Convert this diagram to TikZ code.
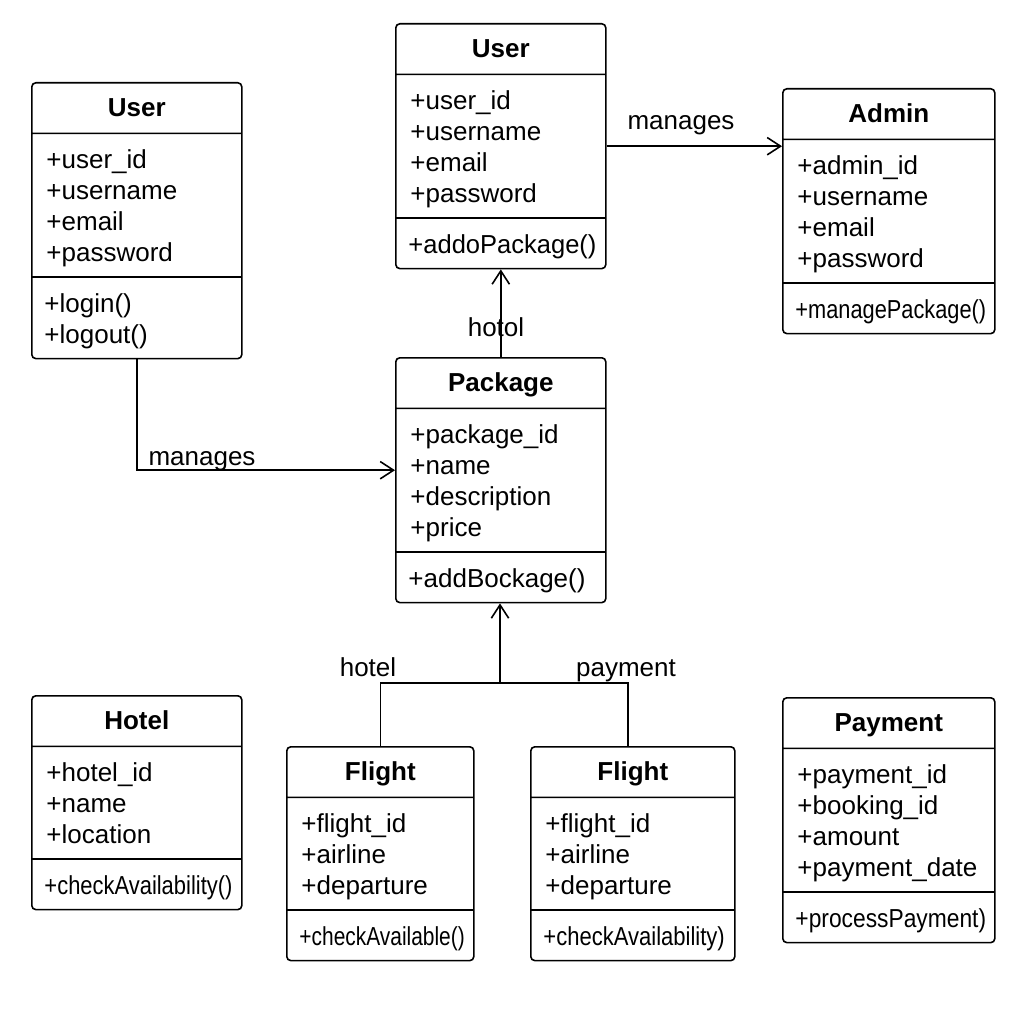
\documentclass[tikz,border=0pt]{standalone}
\usepackage{fontspec}
\setmainfont{Liberation Sans}
\usetikzlibrary{shapes.multipart,arrows.meta}

\newcommand{\cname}[1]{\raisebox{-1.5pt}[\height][\depth]{\begin{tabular}{@{}c@{}}\bfseries #1\end{tabular}}}
\newcommand{\attrs}[1]{\raisebox{-3pt}[\height][\depth]{\begin{tabular}{@{\hspace{5pt}}l@{}}#1\end{tabular}}}
\newcommand{\meths}[1]{\raisebox{-3pt}[\height][\depth]{\begin{tabular}{@{\hspace{3.5pt}}l@{}}#1\end{tabular}}}
\newcommand{\squeeze}[2]{\resizebox{#1}{\height}{#2}}

\begin{document}
\begin{tikzpicture}[x=0.75pt,y=-0.75pt,
    font=\fontsize{19.5pt}{23.25pt}\selectfont,
    umlclass/.style={draw, line width=1.2pt, rounded corners=3pt,
        rectangle split, rectangle split parts=3,
        rectangle split part align={center,left,left},
        inner xsep=6pt, inner ysep=6.75pt, anchor=north west,
        minimum width=#1},
    umlclass/.default=157.5pt,
    assoc/.style={line width=1.2pt, -{Straight Barb[length=10pt,width=13pt]}},
    wire/.style={line width=1.2pt}]
    \fill[white] (0,0) rectangle (1024,1024);
    \useasboundingbox (0,0) rectangle (1024,1024);

    % classes
    \node[umlclass] (user1) at (31,82) {\cname{User}
        \nodepart{two}\attrs{+user\_id\\+username\\+email\\+password}
        \nodepart{three}\meths{+login()\\+logout()}};
    \node[umlclass] (user2) at (395,23) {\cname{User}
        \nodepart{two}\attrs{+user\_id\\+username\\+email\\+password}
        \nodepart{three}\meths{\squeeze{141pt}{+addoPackage()}}};
    \node[umlclass=159pt] (admin) at (782,88) {\cname{Admin}
        \nodepart{two}\attrs{+admin\_id\\+username\\+email\\+password}
        \nodepart{three}\meths{\squeeze{143pt}{+managePackage()}}};
    \node[umlclass] (package) at (395,357) {\cname{Package}
        \nodepart{two}\attrs{+package\_id\\+name\\+description\\+price}
        \nodepart{three}\meths{+addBockage()}};
    \node[umlclass] (hotel) at (31,695) {\cname{Hotel}
        \nodepart{two}\attrs{+hotel\_id\\+name\\+location}
        \nodepart{three}\meths{\squeeze{141pt}{+checkAvailability()}}};
    \node[umlclass=140.25pt] (flight1) at (286,746) {\cname{Flight}
        \nodepart{two}\attrs{+flight\_id\\+airline\\+departure}
        \nodepart{three}\meths{\squeeze{124pt}{+checkAvailable()}}};
    \node[umlclass=153pt] (flight2) at (530,746) {\cname{Flight}
        \nodepart{two}\attrs{+flight\_id\\+airline\\+departure}
        \nodepart{three}\meths{\squeeze{136pt}{+checkAvailability)}}};
    \node[umlclass=159pt] (payment) at (782,697) {\cname{Payment}
        \nodepart{two}\attrs{+payment\_id\\+booking\_id\\+amount\\+payment\_date}
        \nodepart{three}\meths{\squeeze{143pt}{+processPayment)}}};

    % labels
    \node (mgr1) at (202,461) {manages};
    \node (mgr2) at (681,125) {manages};
    \node (hotol) at (496,327) {hotol};
    \node (hotellbl) at (368,667) {hotel};
    \node (paylbl) at (626,671) {payment};

    % connectors
    \draw[assoc] (user1.south) |- ([yshift=7.5pt]package.west);
    \draw[assoc] (user2.east) -- (user2.east -| admin.west);
    \draw[assoc] (package.north) -- (package.north |- user2.south);
    \coordinate (fork) at (500,683);
    \draw[wire] (flight1.north) |- (fork) -| ([xshift=-3.75pt]flight2.north);
    \draw[assoc] (fork) -- (fork |- package.south);
\end{tikzpicture}
\end{document}
